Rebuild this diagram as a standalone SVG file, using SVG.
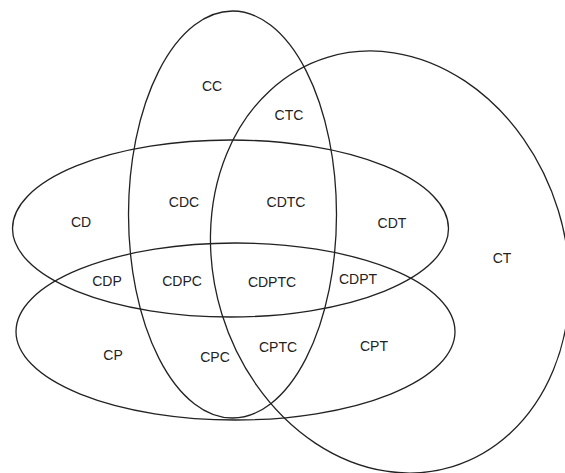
<svg xmlns="http://www.w3.org/2000/svg" width="565" height="473" viewBox="0 0 565 473">
<style>
.set{fill:none;stroke:#222;stroke-width:1.3}
text{font-family:"Liberation Sans",Arial,sans-serif;font-size:14px;fill:#222;text-anchor:middle;dominant-baseline:central}
</style>
<rect width="565" height="473" fill="#fff"/>
<g id="sets">
<ellipse id="set-C" class="set" cx="232.5" cy="214.5" rx="104" ry="203.5"/>
<ellipse id="set-T" class="set" cx="390" cy="262" rx="176" ry="214" transform="rotate(-17 390 262)"/>
<ellipse id="set-D" class="set" cx="230.5" cy="228.5" rx="218" ry="88.5"/>
<ellipse id="set-P" class="set" cx="235.5" cy="331.5" rx="219.5" ry="88.5"/>
</g>
<g id="labels">
<text x="212" y="86">CC</text>
<text x="289" y="115">CTC</text>
<text x="81" y="222">CD</text>
<text x="184" y="202">CDC</text>
<text x="286" y="202">CDTC</text>
<text x="392" y="223">CDT</text>
<text x="502" y="258">CT</text>
<text x="107" y="281">CDP</text>
<text x="182" y="281">CDPC</text>
<text x="272" y="282">CDPTC</text>
<text x="358" y="279">CDPT</text>
<text x="113" y="355">CP</text>
<text x="215" y="357">CPC</text>
<text x="278" y="347">CPTC</text>
<text x="374" y="346">CPT</text>
</g>
</svg>
